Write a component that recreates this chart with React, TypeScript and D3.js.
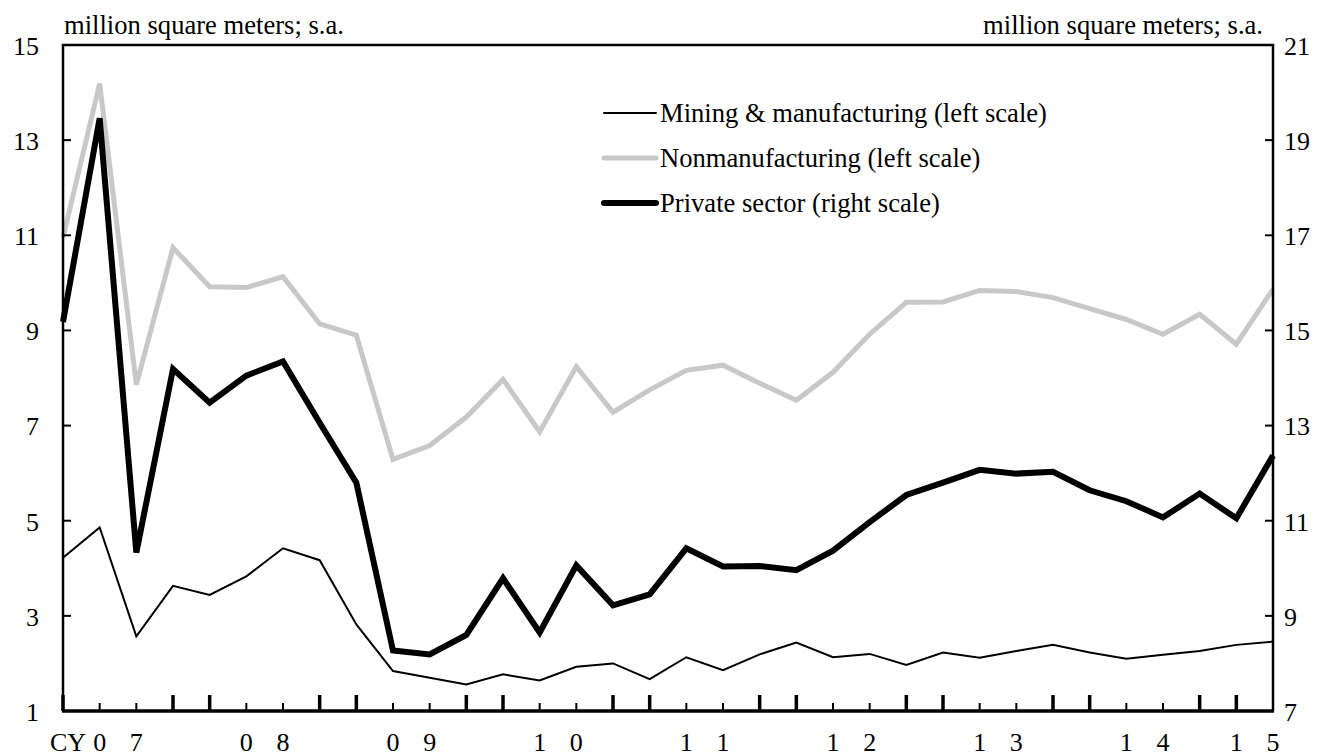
import React, { useEffect, useRef } from "react";
import * as d3 from "d3";

const quarters: string[] = [];
for (let y = 2007; y <= 2015; y++) {
  for (let q = 1; q <= 4; q++) {
    if (y === 2015 && q > 2) break;
    quarters.push(`${y}Q${q}`);
  }
}

const yearLabels = ["07", "08", "09", "10", "11", "12", "13", "14", "15"];

const mining = [
  4.22, 4.86, 2.57, 3.63, 3.44, 3.83, 4.42, 4.17, 2.82, 1.84, 1.7, 1.56,
  1.77, 1.64, 1.93, 2.0, 1.67, 2.13, 1.86, 2.19, 2.44, 2.13, 2.2, 1.97,
  2.23, 2.12, 2.26, 2.39, 2.23, 2.1, 2.18, 2.26, 2.39, 2.46,
];

const nonmanufacturing = [
  10.95, 14.19, 7.86, 10.74, 9.92, 9.9, 10.13, 9.14, 8.9, 6.29, 6.58, 7.18,
  7.97, 6.87, 8.24, 7.28, 7.75, 8.16, 8.27, 7.89, 7.53, 8.12, 8.92, 9.59,
  9.6, 9.84, 9.82, 9.69, 9.46, 9.23, 8.92, 9.34, 8.71, 9.87,
];

const privateSector = [
  15.18, 19.46, 10.33, 14.19, 13.48, 14.05, 14.35, 13.06, 11.8, 8.27, 8.19,
  8.6, 9.79, 8.65, 10.06, 9.22, 9.45, 10.42, 10.04, 10.05, 9.96, 10.37,
  10.97, 11.54, 11.8, 12.07, 11.99, 12.03, 11.64, 11.41, 11.07, 11.57,
  11.05, 12.37,
];

const leftTicks = [1, 3, 5, 7, 9, 11, 13, 15];
const rightTicks = [7, 9, 11, 13, 15, 17, 19, 21];

const legendItems = [
  { label: "Mining & manufacturing (left scale)", key: "mining" },
  { label: "Nonmanufacturing (left scale)", key: "nonmfg" },
  { label: "Private sector (right scale)", key: "private" },
];

const W = 1325;
const H = 754;
const FONT = "'Liberation Serif', 'Times New Roman', serif";
const FS = 26;
const FS_TEXT = 26.6;

export default function App() {
  const ref = useRef<SVGSVGElement | null>(null);

  useEffect(() => {
    document.body.style.margin = "0";
    const svg = d3.select(ref.current);
    svg.selectAll("*").remove();

    const left = 63, right = 1273, top = 45, bottom = 711;
    const x = d3.scaleLinear().domain([0, quarters.length - 1]).range([left, right]);
    const yL = d3.scaleLinear().domain([1, 15]).range([bottom, top]);
    const yR = d3.scaleLinear().domain([7, 21]).range([bottom, top]);

    const styles: Record<string, { stroke: string; width: number }> = {
      mining: { stroke: "#000", width: 2 },
      nonmfg: { stroke: "#c8c8c8", width: 5 },
      private: { stroke: "#000", width: 6 },
    };

    const g = svg.append("g");

    const lineL = d3.line<number>().x((_, i) => x(i)).y((d) => yL(d));
    const lineR = d3.line<number>().x((_, i) => x(i)).y((d) => yR(d));

    g.append("path").datum(nonmanufacturing).attr("d", lineL).attr("fill", "none")
      .attr("stroke", styles.nonmfg.stroke).attr("stroke-width", styles.nonmfg.width);
    g.append("path").datum(mining).attr("d", lineL).attr("fill", "none")
      .attr("stroke", styles.mining.stroke).attr("stroke-width", styles.mining.width);
    g.append("path").datum(privateSector).attr("d", lineR).attr("fill", "none")
      .attr("stroke", styles.private.stroke).attr("stroke-width", styles.private.width);

    // frame
    g.append("path")
      .attr("d", `M${left},${bottom} L${left},${top} L${right},${top} L${right},${bottom}`)
      .attr("fill", "none").attr("stroke", "#000").attr("stroke-width", 2.5);
    g.append("line").attr("x1", left - 1).attr("x2", right + 1).attr("y1", bottom).attr("y2", bottom)
      .attr("stroke", "#000").attr("stroke-width", 3.5);

    // y axes
    leftTicks.forEach((t) => {
      if (t !== 1 && t !== 15)
        g.append("line").attr("x1", left).attr("x2", left + 8).attr("y1", yL(t)).attr("y2", yL(t))
          .attr("stroke", "#000").attr("stroke-width", 2);
      g.append("text").attr("x", 39).attr("y", yL(t)).attr("dy", "0.38em")
        .attr("text-anchor", "end").attr("font-family", FONT).attr("font-size", FS).text(String(t));
    });
    rightTicks.forEach((t) => {
      if (t !== 7 && t !== 21)
        g.append("line").attr("x1", right - 8).attr("x2", right).attr("y1", yR(t)).attr("y2", yR(t))
          .attr("stroke", "#000").attr("stroke-width", 2);
      g.append("text").attr("x", 1284).attr("y", yR(t)).attr("dy", "0.38em")
        .attr("text-anchor", "start").attr("font-family", FONT).attr("font-size", FS).text(String(t));
    });

    // x ticks
    quarters.forEach((_, i) => {
      if (i === quarters.length - 1) return;
      const big = i % 4 === 0 || i % 4 === 3;
      g.append("line").attr("x1", x(i)).attr("x2", x(i))
        .attr("y1", bottom).attr("y2", bottom - (big ? 16 : 8))
        .attr("stroke", "#000").attr("stroke-width", big ? 3.5 : 2);
    });

    // x labels
    yearLabels.forEach((lab, k) => {
      const start = k * 4;
      const count = Math.min(4, quarters.length - start);
      const pos = count >= 4 ? [start + 1, start + 2] : [start, start + 1];
      lab.split("").forEach((ch, j) => {
        g.append("text").attr("x", x(pos[j])).attr("y", 751).attr("text-anchor", "middle")
          .attr("font-family", FONT).attr("font-size", FS).text(ch);
      });
    });
    g.append("text").attr("x", 86).attr("y", 751).attr("text-anchor", "end")
      .attr("font-family", FONT).attr("font-size", FS).text("CY");

    // units
    g.append("text").attr("x", 64).attr("y", 34).attr("font-family", FONT).attr("font-size", FS_TEXT)
      .text("million square meters; s.a.");
    g.append("text").attr("x", 1263).attr("y", 34).attr("text-anchor", "end").attr("font-family", FONT)
      .attr("font-size", FS_TEXT).text("million square meters; s.a.");

    // legend
    legendItems.forEach((it, k) => {
      const yy = 113 + k * 45;
      const s = styles[it.key];
      g.append("line").attr("x1", 604).attr("x2", 656).attr("y1", yy).attr("y2", yy)
        .attr("stroke", s.stroke).attr("stroke-width", s.width).attr("stroke-linecap", "round");
      g.append("text").attr("x", 660).attr("y", yy).attr("dy", "0.35em")
        .attr("font-family", FONT).attr("font-size", FS_TEXT).text(it.label);
    });
  }, []);

  return <svg ref={ref} width={W} height={H} style={{ display: "block", background: "#fff" }} />;
}
